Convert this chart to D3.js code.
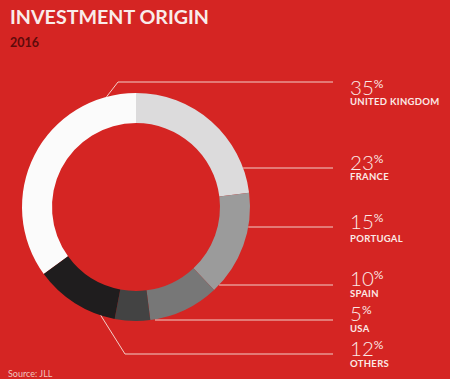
<!DOCTYPE html>
<html><head><meta charset="utf-8">
<script src="https://cdn.jsdelivr.net/npm/d3@7"></script>
<style>html,body{margin:0;padding:0;background:#d52523;}svg{display:block;}</style>
</head><body>
<script>
const categories = ["UNITED KINGDOM", "FRANCE", "PORTUGAL", "SPAIN", "USA", "OTHERS"];
const values = [35, 23, 15, 10, 5, 12];
const palette = ["#fbfbfb", "#dcdbdc", "#9b9b9b", "#777777", "#434343", "#1f1d1e"];
const title = "INVESTMENT ORIGIN";
const subtitle = "2016";
const source = "Source: JLL";

const W = 450, H = 379;
const bg = "#d52523";
const cx = 136, cy = 207, R = 114, r = 84;
const labelX = 350, lineEndX = 333;
const lineY = [82, 168, 227, 285, 320, 354];

const svg = d3.select("body").append("svg").attr("width", W).attr("height", H);
svg.append("rect").attr("width", W).attr("height", H).attr("fill", bg);

const color = d3.scaleOrdinal().domain(categories).range(palette);
const start = -values[0] / d3.sum(values) * 2 * Math.PI;
const pie = d3.pie().sort(null).value(d => d.v).startAngle(start).endAngle(start + 2 * Math.PI);
const arc = d3.arc().innerRadius(r).outerRadius(R);
const data = categories.map((c, i) => ({c, v: values[i]}));

const g = svg.append("g").attr("transform", `translate(${cx},${cy})`);
g.selectAll("path").data(pie(data)).join("path")
  .attr("d", arc).attr("fill", d => color(d.data.c));

// Leader lines
const lc = "#f2cfc8";
const lines = svg.append("g").attr("stroke", lc).attr("stroke-width", 1).attr("fill", "none");
categories.forEach((c, i) => {
  const y = lineY[i];
  let pts;
  if (i === 0) {
    const a = -15 * Math.PI / 180;
    pts = [[cx + R * Math.sin(a), cy - R * Math.cos(a)], [118, y], [lineEndX, y]];
  } else if (i === categories.length - 1) {
    const a = 198 * Math.PI / 180;
    pts = [[cx + R * Math.sin(a), cy - R * Math.cos(a)], [125, y], [lineEndX, y]];
  } else {
    const dy = y - cy;
    const x0 = cx + Math.sqrt(Math.max(0, R * R - dy * dy));
    pts = [[Math.max(x0, 155), y], [lineEndX, y]];
  }
  lines.append("path").attr("d", d3.line()(pts));
});

// Labels
const numY = [94.5, 169.5, 228.5, 285.5, 320.5, 355.5];
const labY = [104.5, 180, 241.5, 296.5, 331.5, 366.5];
categories.forEach((c, i) => {
  const t = svg.append("text").attr("x", labelX).attr("y", numY[i])
    .attr("fill", "#fbe9e6").attr("font-family", "Lato, sans-serif").attr("font-weight", 300)
    .attr("font-size", 20.5);
  t.append("tspan").text(values[i]);
  t.append("tspan").attr("font-size", 12).attr("dy", -7).attr("font-weight", 400).text("%");
  svg.append("text").attr("x", labelX).attr("y", labY[i])
    .attr("fill", "#fbe9e6").attr("font-family", "Lato, sans-serif").attr("font-weight", 700)
    .attr("font-size", 9.5).attr("letter-spacing", 0.3).text(c);
});

svg.append("text").attr("x", 10).attr("y", 23.5).text(title)
  .attr("fill", "#f9ecea").attr("font-family", "Lato, sans-serif").attr("font-weight", 700)
  .attr("font-size", 19.5).attr("textLength", 199).attr("lengthAdjust", "spacingAndGlyphs");
svg.append("text").attr("x", 10).attr("y", 47).text(subtitle)
  .attr("fill", "#5e0b0b").attr("font-family", "Lato, sans-serif").attr("font-weight", 700)
  .attr("font-size", 12.5);
svg.append("text").attr("x", 8).attr("y", 377).text(source)
  .attr("fill", "#f0c4bf").attr("font-family", "Lato, sans-serif").attr("font-weight", 400)
  .attr("font-size", 9);
</script>
</body></html>
